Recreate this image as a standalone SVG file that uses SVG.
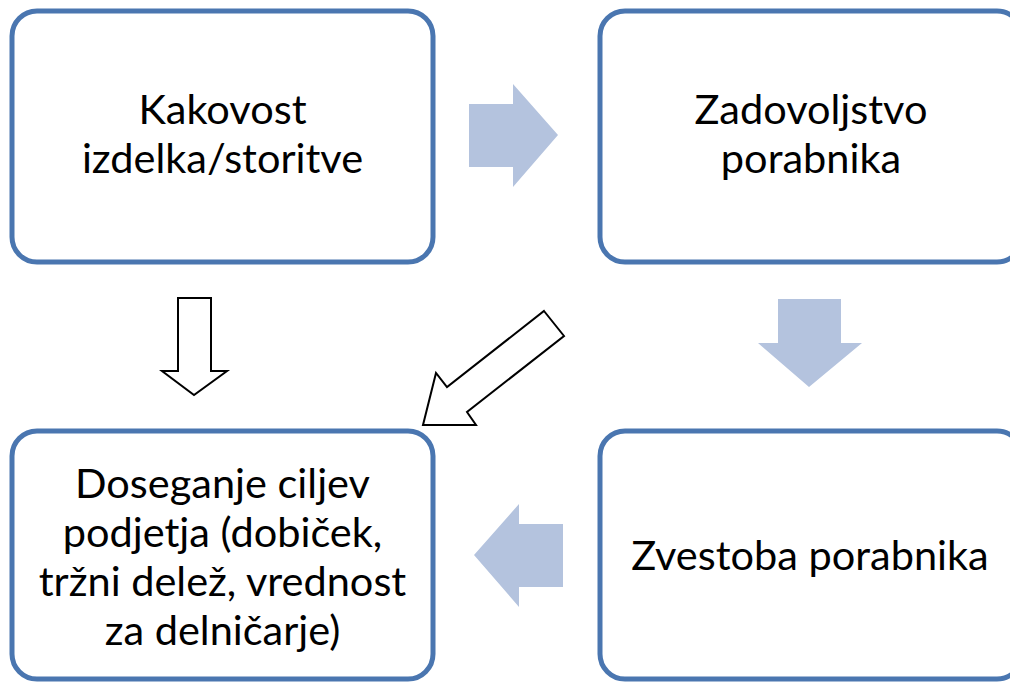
<svg xmlns="http://www.w3.org/2000/svg" width="1010" height="682" viewBox="0 0 1010 682">
<style>
.box{fill:#fff;stroke:#4a76b0;stroke-width:5}
.fa{fill:#b4c3de;stroke:none}
.oa{fill:#fff;stroke:#000;stroke-width:2;stroke-linejoin:miter}
text{font-family:Lato,"Open Sans",sans-serif;font-size:41.5px;fill:#000;text-anchor:middle}
</style>
<rect width="1010" height="682" fill="#fff"/>
<g id="n1"><rect class="box" x="12" y="11" width="421" height="251" rx="25"/>
<text x="222.5" y="124">Kakovost</text><text x="222.5" y="173">izdelka/storitve</text></g>
<g id="n2"><rect class="box" x="600" y="11" width="422" height="251" rx="25"/>
<text x="811" y="124">Zadovoljstvo</text><text x="811" y="173">porabnika</text></g>
<g id="n3"><rect class="box" x="12" y="431" width="421" height="248" rx="25"/>
<text x="222.5" y="498">Doseganje ciljev</text><text x="222.5" y="547">podjetja (dobiček,</text><text x="222.5" y="596">tržni delež, vrednost</text><text x="222.5" y="645">za delničarje)</text></g>
<g id="n4"><rect class="box" x="600" y="431" width="422" height="248" rx="25"/>
<text x="810" y="570">Zvestoba porabnika</text></g>
<g id="connectors">
<polygon class="fa" points="469,104 513,104 513,84 558,135 513,187 513,167 469,167"/>
<polygon class="fa" points="778,299 841,299 841,343 862,343 809,387 758,343 778,343"/>
<polygon class="fa" points="563,524 519,524 519,504 474,555 519,607 519,587 563,587"/>
<polygon class="oa" points="178,298 211,298 211,371 227,371 194,395 162,371 178,371"/>
<polygon class="oa" points="544,311 564,336 467,412 476,425 423,425 436,373 447,387"/>
</g>
</svg>
